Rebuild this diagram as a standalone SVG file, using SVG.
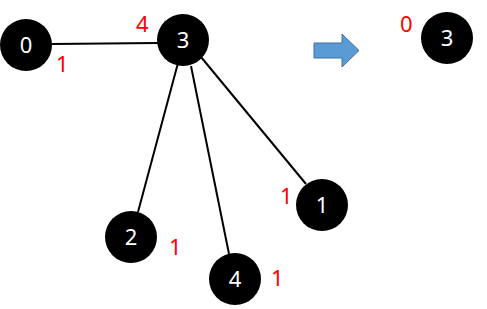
<svg xmlns="http://www.w3.org/2000/svg" width="487" height="309" viewBox="0 0 487 309">
<style>
.n{fill:#000}
.t{fill:#fff;font-family:"Noto Sans","Open Sans",sans-serif;font-size:22px;text-anchor:middle}
.r{fill:#ff0000;font-family:"Noto Sans","Open Sans",sans-serif;font-size:22px}
.e{stroke:#000;stroke-width:2;fill:none}
</style>
<rect width="487" height="309" fill="#fff"/>
<g id="connectors">
<line class="e" x1="52" y1="44" x2="158" y2="43"/>
<line class="e" x1="178" y1="63" x2="138" y2="212"/>
<line class="e" x1="191" y1="66" x2="229" y2="254"/>
<line class="e" x1="201" y1="57" x2="306" y2="184"/>
</g>
<g id="node0"><circle class="n" cx="26" cy="45" r="26"/><text class="t" x="26" y="53">0</text></g>
<g id="node3"><circle class="n" cx="183" cy="40" r="26"/><text class="t" x="183" y="48">3</text></g>
<g id="node1"><circle class="n" cx="322" cy="205" r="26"/><text class="t" x="322" y="213">1</text></g>
<g id="node2"><circle class="n" cx="131" cy="237" r="26"/><text class="t" x="131" y="245">2</text></g>
<g id="node4"><circle class="n" cx="235" cy="279" r="26"/><text class="t" x="235" y="287">4</text></g>
<g id="node3b"><circle class="n" cx="447" cy="38" r="26"/><text class="t" x="447" y="46">3</text></g>
<g id="labels">
<text class="r" x="136" y="32">4</text>
<text class="r" x="56" y="72">1</text>
<text class="r" x="280" y="204">1</text>
<text class="r" x="169" y="255">1</text>
<text class="r" x="271" y="286">1</text>
<text class="r" x="400" y="32">0</text>
</g>
<g id="arrow"><polygon points="314,43 342,43 342,34 359,50.5 342,67 342,58 314,58" fill="#5b9bd5" stroke="#41719c" stroke-width="1"/></g>
</svg>
